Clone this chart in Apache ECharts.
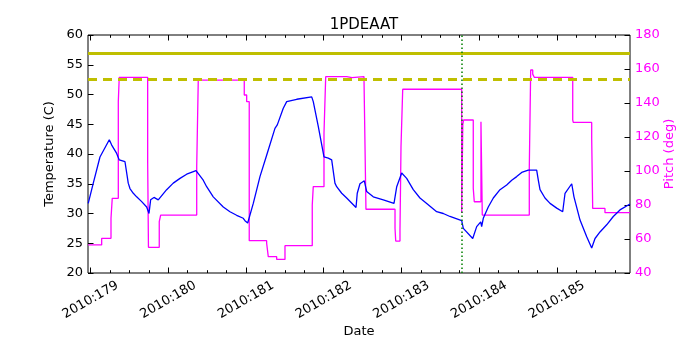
<!DOCTYPE html>
<html>
<head>
<meta charset="utf-8">
<script src="https://cdn.jsdelivr.net/npm/echarts@6/dist/echarts.min.js"></script>
<style>
  html, body { margin: 0; padding: 0; background: #fff; }
  #chart { width: 700px; height: 350px; }
</style>
</head>
<body>
<div id="chart"></div>
<script>
// day of year 2010, temperature (C)
const tempDays = [178.970, 179.035, 179.121, 179.241, 179.272, 179.292, 179.336, 179.369, 179.443, 179.465,
  179.485, 179.507, 179.550, 179.593, 179.658, 179.722, 179.752, 179.773, 179.816, 179.871, 179.979, 180.064,
  180.151, 180.237, 180.357, 180.450, 180.494, 180.579, 180.708, 180.794, 180.880, 180.965, 180.987, 181.022,
  181.094, 181.180, 181.266, 181.287, 181.373, 181.403, 181.480, 181.524, 181.653, 181.846, 181.866, 181.931,
  182.004, 182.059, 182.103, 182.145, 182.167, 182.232, 182.296, 182.416, 182.432, 182.467, 182.523, 182.553,
  182.638, 182.767, 182.905, 182.940, 183.004, 183.068, 183.153, 183.239, 183.326, 183.454, 183.539, 183.625,
  183.776, 183.797, 183.918, 183.969, 184.021, 184.033, 184.054, 184.118, 184.183, 184.269, 184.355, 184.420,
  184.484, 184.548, 184.633, 184.655, 184.741, 184.762, 184.784, 184.848, 184.913, 184.999, 185.076, 185.106,
  185.192, 185.221, 185.299, 185.385, 185.449, 185.492, 185.556, 185.642, 185.727, 185.813, 185.942]
const tempVals = [31.7, 35.1, 39.5, 42.4, 41.5, 41.3, 40.1, 39.0, 38.7, 38.4,
  35.1, 34.2, 33.4, 32.8, 32.0, 31.1, 30.0, 32.3, 32.7, 32.3, 34.0, 35.1,
  35.9, 36.6, 37.2, 35.6, 34.5, 32.8, 31.1, 30.3, 29.7, 29.2, 28.8, 28.4,
  31.7, 36.2, 39.8, 39.8, 44.3, 44.9, 47.7, 48.8, 49.2, 49.6, 48.8, 44.6,
  39.5, 39.3, 39.0, 35.1, 34.5, 33.4, 32.6, 31.0, 33.4, 35.0, 35.5, 33.7,
  32.8, 32.3, 31.7, 34.5, 36.8, 35.9, 34.0, 32.6, 31.7, 30.3, 30.0, 29.5,
  28.8, 27.5, 25.8, 27.8, 28.6, 27.8, 29.2, 31.1, 32.6, 34.0, 34.8, 35.6,
  36.2, 36.9, 37.3, 37.0, 37.3, 35.6, 34.0, 32.6, 31.7, 30.9, 30.3, 33.4,
  35.0, 32.8, 28.9, 26.1, 24.2, 25.8, 26.9, 28.1, 29.5, 30.6, 31.6]

// pitch (deg), each value holds from its day until the next one
const pitchDays = [178.970, 179.143, 179.263, 179.279, 179.357, 179.369, 179.735, 179.745, 179.884, 179.902,
  180.366, 180.386, 180.978, 181.009, 181.042, 181.266, 181.287, 181.395, 181.502, 181.853, 181.866, 182.004,
  182.026, 182.296, 182.364, 182.519, 182.544, 182.918, 182.927, 182.982, 182.995, 183.017, 183.776, 183.790,
  183.800, 183.925, 183.938, 184.024, 184.041, 184.646, 184.664, 184.690, 184.710, 185.205, 185.212, 185.449,
  185.462, 185.620, 185.942]
const pitchVals = [56.5, 60.4, 72.2, 83.9, 140.8, 155.1, 104.5, 55.1, 70.2, 74.1,
  102.5, 153.5, 144.7, 140.8, 59.0, 57.5, 49.6, 48.0, 56.1, 80.0, 90.8, 122.2,
  155.5, 154.9, 155.5, 153.5, 77.5, 66.3, 58.8, 65.3, 114.3, 148.1, 75.3, 127.1,
  130.0, 89.8, 81.9, 129.0, 74.1, 101.6, 159.4, 157.0, 155.1, 130.0, 128.6, 119.2,
  78.0, 75.5, 75.5]

const tempLimit = 57
const tempPlanLimit = 52.5
const markerDay = 183.78

const dayTicks = [179, 180, 181, 182, 183, 184, 185]
const quarterTicks = []
dayTicks.forEach(d => { [0.25, 0.5, 0.75].forEach(q => quarterTicks.push(d + q)) })

const xMin = 178.967, xMax = 185.942
const font = 'DejaVu Sans'

function xAx(pos, ticks, len, labels) {
  return {
    type: 'value', position: pos, min: xMin, max: xMax,
    axisLine: { show: false },
    splitLine: { show: false },
    axisTick: { show: true, inside: true, length: len, customValues: ticks, lineStyle: { color: '#000' } },
    axisLabel: labels ? {
      show: true, customValues: dayTicks, rotate: 30, align: 'center', verticalAlign: 'middle',
      margin: 27, color: '#000', fontFamily: font, fontSize: 13,
      formatter: v => '2010:' + Math.round(v)
    } : { show: false }
  }
}

const chart = echarts.init(document.getElementById('chart'), null, { renderer: 'canvas' })
chart.setOption({
  animation: false,
  title: {
    text: '1PDEAAT', left: 359, textAlign: 'center', top: 13,
    textStyle: { fontFamily: font, fontSize: 15, fontWeight: 'normal', color: '#000' }
  },
  grid: {
    left: 88, right: 70, top: 35, bottom: 77,
    show: true, borderColor: '#000', borderWidth: 1, backgroundColor: 'transparent',
    outerBoundsMode: 'none'
  },
  xAxis: [
    Object.assign(xAx('bottom', dayTicks, 5.5, true), {
      name: 'Date', nameLocation: 'middle', nameGap: 52, nameMoveOverlap: false,
      nameTextStyle: { fontFamily: font, fontSize: 13, color: '#000' }
    }),
    xAx('bottom', quarterTicks, 2.8, false),
    xAx('top', dayTicks, 5.5, false),
    xAx('top', quarterTicks, 2.8, false)
  ],
  yAxis: [
    {
      type: 'value', position: 'left', min: 20, max: 60, interval: 5,
      name: 'Temperature (C)', nameLocation: 'middle', nameGap: 32, nameMoveOverlap: false,
      nameTextStyle: { fontFamily: font, fontSize: 13, color: '#000' },
      axisLine: { show: false }, splitLine: { show: false },
      axisTick: { show: true, inside: true, length: 5.5, lineStyle: { color: '#000' } },
      axisLabel: { margin: 5, color: '#000', fontFamily: font, fontSize: 13 }
    },
    {
      type: 'value', position: 'right', min: 40, max: 180, interval: 20,
      name: 'Pitch (deg)', nameLocation: 'middle', nameGap: 33, nameMoveOverlap: false,
      nameTextStyle: { fontFamily: font, fontSize: 13, color: '#ff00ff' },
      axisLine: { show: false }, splitLine: { show: false },
      axisTick: { show: true, inside: true, length: 5.5, lineStyle: { color: '#000' } },
      axisLabel: { margin: 5, color: '#ff00ff', fontFamily: font, fontSize: 13 }
    }
  ],
  series: [
    {
      name: 'Pitch', type: 'line', yAxisIndex: 1, step: 'end', symbol: 'none',
      data: pitchDays.map((d, i) => [d, pitchVals[i]]),
      lineStyle: { color: '#ff00ff', width: 1.3 }, z: 2
    },
    {
      name: 'Temperature', type: 'line', yAxisIndex: 0, symbol: 'none',
      data: tempDays.map((d, i) => [d, tempVals[i]]),
      lineStyle: { color: '#0000ff', width: 1.3 }, z: 3,
      markLine: {
        silent: true, symbol: ['none', 'none'], label: { show: false },
        data: [
          { yAxis: tempLimit, lineStyle: { color: '#bfbf00', width: 3, type: 'solid' } },
          { yAxis: tempPlanLimit, lineStyle: { color: '#bfbf00', width: 3, type: [9, 6] } },
          { xAxis: markerDay, lineStyle: { color: '#008000', width: 1.5, type: [1.5, 2.5] } }
        ]
      }
    }
  ]
})
</script>
</body>
</html>
